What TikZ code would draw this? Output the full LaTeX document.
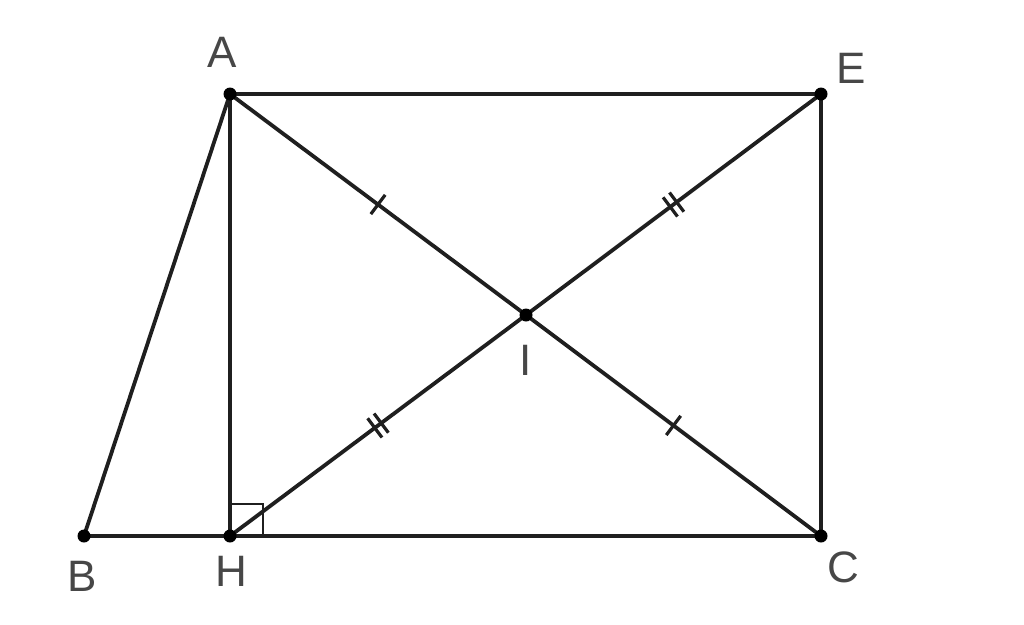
\documentclass[tikz,border=0pt]{standalone}
\usepackage{fontspec}
\setmainfont{Liberation Sans}
\usetikzlibrary{decorations.markings}
\begin{document}
\begin{tikzpicture}[x=1pt,y=-1pt,
  seg/.style={line width=3.8pt,draw=black!88},
  onetick/.style={postaction={decorate,decoration={markings,mark=at position 0.5 with {\draw[line width=3.2pt,black!88] (0,-12) -- (0,12);}}}},
  twotick/.style={postaction={decorate,decoration={markings,mark=at position 0.5 with {\draw[line width=3.2pt,black!88] (-4,-12) -- (-4,12) (4,-12) -- (4,12);}}}},
  pt/.style={circle,fill=black,inner sep=0pt,minimum size=13pt},
  lab/.style={font=\fontsize{44}{44}\selectfont,text=black!72,inner sep=0pt}]
\useasboundingbox (0,0) rectangle (1024,624);
\coordinate (A) at (230,94);
\coordinate (E) at (821,94);
\coordinate (B) at (84,536);
\coordinate (H) at (230,536);
\coordinate (C) at (821,536);
\coordinate (I) at (526,315);
\draw[seg,line width=2.6pt] (230,504) -- (263,504) -- (263,536);
\draw[seg] (A) -- (E) -- (C) -- (B) -- cycle;
\draw[seg] (A) -- (H);
\draw[seg,onetick] (A) -- (I);
\draw[seg,onetick] (I) -- (C);
\draw[seg,twotick] (H) -- (I);
\draw[seg,twotick] (I) -- (E);
\foreach \p in {A,E,B,H,C,I} \node[pt] (d\p) at (\p) {};
\node[lab] (lA) at (222,52) {A};
\node[lab] (lE) at (851,68) {E};
\node[lab] (lB) at (82,576) {B};
\node[lab] (lH) at (231,571) {H};
\node[lab] (lC) at (843,567) {C};
\node[lab] (lI) at (526,360) {I};
\end{tikzpicture}
\end{document}
